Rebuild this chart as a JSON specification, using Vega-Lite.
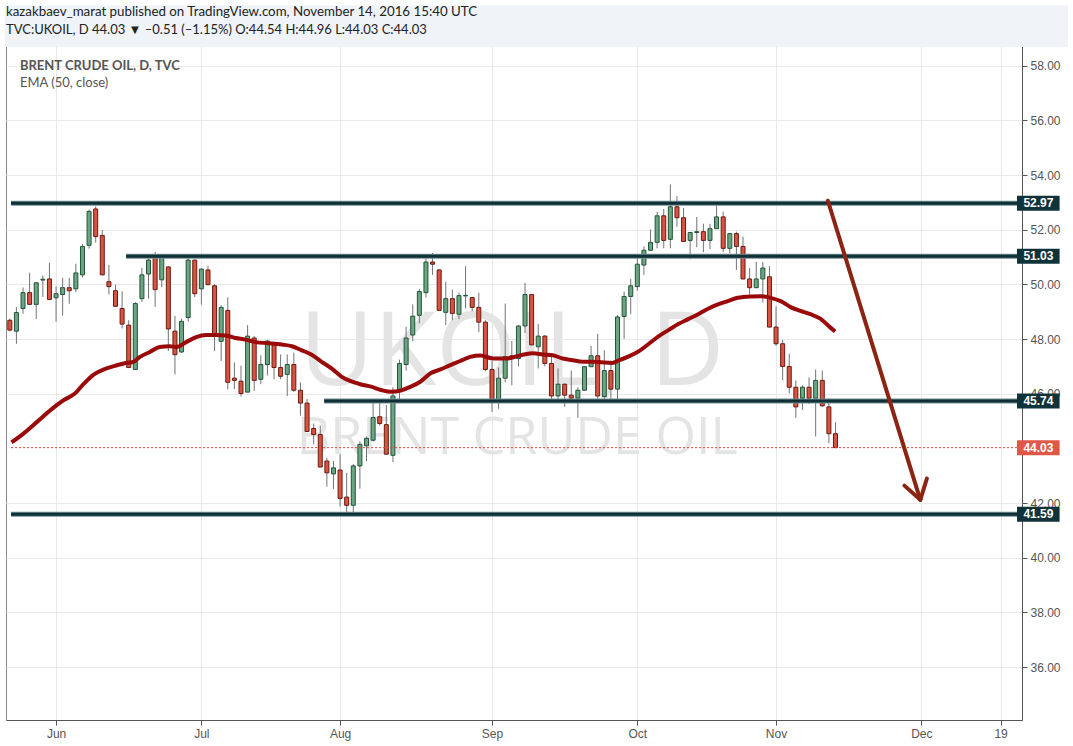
{
  "$schema": "https://vega.github.io/schema/vega-lite/v6.json",
  "width": 1016,
  "height": 678,
  "autosize": {"type": "none"},
  "padding": {"left": 6, "top": 42, "right": 51, "bottom": 26},
  "background": "#ffffff",
  "title": {
    "text": "kazakbaev_marat published on TradingView.com, November 14, 2016 15:40 UTC",
    "subtitle": "TVC:UKOIL, D 44.03 \u25bc \u20130.51 (\u20131.15%) O:44.54 H:44.96 L:44.03 C:44.03",
    "anchor": "start",
    "frame": "group",
    "font": "Lato",
    "fontSize": 13.3,
    "fontWeight": "normal",
    "color": "#222222",
    "subtitleFont": "Lato",
    "subtitleFontSize": 13,
    "subtitleFontWeight": "normal",
    "subtitleColor": "#222222",
    "subtitlePadding": 5,
    "offset": -31
  },
  "config": {
    "view": {"stroke": "#8a8a8a", "fill": "#ffffff"},
    "axis": {
      "grid": true,
      "gridColor": "#e9e9e9",
      "gridWidth": 1,
      "domainColor": "#555555",
      "tickColor": "#555555",
      "tickSize": 5,
      "labelColor": "#555555",
      "labelFont": "'Liberation Sans Narrow', 'Liberation Sans', sans-serif",
      "labelFontSize": 12,
      "title": null
    }
  },
  "datasets": {
    "candles": [
      {"i":-7,"o":48.69,"h":48.75,"l":48.28,"c":48.33},
      {"i":-6,"o":48.29,"h":49.17,"l":47.83,"c":48.97},
      {"i":-5,"o":49.12,"h":49.89,"l":48.93,"c":49.70},
      {"i":-4,"o":49.70,"h":50.43,"l":49.25,"c":49.27},
      {"i":-3,"o":49.27,"h":50.08,"l":48.73,"c":50.06},
      {"i":-2,"o":50.16,"h":50.33,"l":49.54,"c":50.19},
      {"i":-1,"o":50.20,"h":50.79,"l":49.43,"c":49.45},
      {"i":0,"o":49.51,"h":49.93,"l":48.64,"c":49.66},
      {"i":1,"o":49.63,"h":50.24,"l":48.86,"c":49.88},
      {"i":2,"o":49.88,"h":50.24,"l":49.29,"c":49.77},
      {"i":3,"o":49.84,"h":50.76,"l":49.72,"c":50.42},
      {"i":4,"o":50.35,"h":51.48,"l":50.26,"c":51.39},
      {"i":5,"o":51.43,"h":52.74,"l":51.31,"c":52.67},
      {"i":6,"o":52.76,"h":52.85,"l":51.53,"c":51.75},
      {"i":7,"o":51.79,"h":51.99,"l":50.33,"c":50.35},
      {"i":8,"o":50.10,"h":50.72,"l":49.63,"c":49.92},
      {"i":9,"o":49.77,"h":49.99,"l":49.18,"c":49.20},
      {"i":10,"o":49.12,"h":49.75,"l":48.39,"c":48.55},
      {"i":11,"o":48.51,"h":48.69,"l":46.94,"c":46.96},
      {"i":12,"o":46.89,"h":49.35,"l":46.88,"c":49.30},
      {"i":13,"o":49.48,"h":50.61,"l":49.36,"c":50.35},
      {"i":14,"o":50.38,"h":51.05,"l":49.48,"c":50.89},
      {"i":15,"o":50.97,"h":51.19,"l":49.18,"c":49.81},
      {"i":16,"o":50.17,"h":51.09,"l":49.90,"c":51.07},
      {"i":17,"o":50.64,"h":50.66,"l":47.56,"c":48.37},
      {"i":18,"o":48.29,"h":48.85,"l":46.71,"c":47.43},
      {"i":19,"o":47.53,"h":48.74,"l":47.49,"c":48.65},
      {"i":20,"o":48.79,"h":50.99,"l":48.64,"c":50.89},
      {"i":21,"o":50.89,"h":50.91,"l":49.54,"c":49.66},
      {"i":22,"o":49.84,"h":50.58,"l":49.26,"c":50.56},
      {"i":23,"o":50.53,"h":50.69,"l":49.97,"c":49.99},
      {"i":24,"o":49.95,"h":50.01,"l":47.56,"c":48.11},
      {"i":25,"o":47.92,"h":49.24,"l":47.20,"c":49.16},
      {"i":26,"o":49.05,"h":49.53,"l":46.16,"c":46.42},
      {"i":27,"o":46.57,"h":47.15,"l":46.17,"c":46.49},
      {"i":28,"o":46.46,"h":47.03,"l":45.90,"c":46.01},
      {"i":29,"o":46.06,"h":48.51,"l":46.06,"c":48.11},
      {"i":30,"o":48.04,"h":48.11,"l":46.10,"c":46.49},
      {"i":31,"o":46.53,"h":47.41,"l":46.35,"c":47.07},
      {"i":32,"o":47.07,"h":47.97,"l":46.67,"c":47.93},
      {"i":33,"o":47.79,"h":47.86,"l":46.53,"c":46.96},
      {"i":34,"o":46.96,"h":47.44,"l":46.53,"c":46.64},
      {"i":35,"o":46.71,"h":47.44,"l":45.92,"c":47.07},
      {"i":36,"o":47.07,"h":47.50,"l":46.06,"c":46.13},
      {"i":37,"o":46.13,"h":46.42,"l":45.20,"c":45.66},
      {"i":38,"o":45.66,"h":45.81,"l":44.61,"c":44.62},
      {"i":39,"o":44.73,"h":44.91,"l":44.15,"c":44.51},
      {"i":40,"o":44.51,"h":44.84,"l":43.32,"c":43.32},
      {"i":41,"o":43.54,"h":43.65,"l":42.60,"c":43.11},
      {"i":42,"o":43.07,"h":43.54,"l":42.52,"c":43.29},
      {"i":43,"o":43.21,"h":43.79,"l":41.88,"c":42.17},
      {"i":44,"o":42.22,"h":43.11,"l":41.56,"c":41.92},
      {"i":45,"o":41.92,"h":43.43,"l":41.64,"c":43.36},
      {"i":46,"o":43.36,"h":44.26,"l":42.53,"c":44.15},
      {"i":47,"o":44.10,"h":44.44,"l":43.54,"c":44.37},
      {"i":48,"o":44.30,"h":45.66,"l":44.26,"c":45.13},
      {"i":49,"o":45.16,"h":45.66,"l":44.84,"c":44.91},
      {"i":50,"o":44.87,"h":45.59,"l":43.78,"c":43.79},
      {"i":51,"o":43.75,"h":46.24,"l":43.50,"c":45.92},
      {"i":52,"o":46.13,"h":47.25,"l":45.77,"c":47.11},
      {"i":53,"o":47.07,"h":48.45,"l":46.85,"c":48.04},
      {"i":54,"o":48.15,"h":49.27,"l":47.93,"c":48.84},
      {"i":55,"o":48.87,"h":49.84,"l":48.58,"c":49.74},
      {"i":56,"o":49.70,"h":50.96,"l":49.52,"c":50.82},
      {"i":57,"o":50.82,"h":51.15,"l":50.35,"c":50.74},
      {"i":58,"o":50.53,"h":50.55,"l":49.03,"c":49.05},
      {"i":59,"o":48.98,"h":50.10,"l":48.51,"c":49.48},
      {"i":60,"o":49.48,"h":49.81,"l":48.69,"c":48.94},
      {"i":61,"o":48.91,"h":49.70,"l":48.73,"c":49.59},
      {"i":62,"o":49.58,"h":50.67,"l":49.12,"c":49.60},
      {"i":63,"o":49.52,"h":49.54,"l":49.02,"c":49.16},
      {"i":64,"o":49.16,"h":49.70,"l":48.26,"c":48.62},
      {"i":65,"o":48.62,"h":48.69,"l":46.82,"c":46.89},
      {"i":66,"o":46.89,"h":47.20,"l":45.34,"c":45.77},
      {"i":67,"o":45.77,"h":46.96,"l":45.45,"c":46.57},
      {"i":68,"o":46.57,"h":49.30,"l":46.42,"c":47.36},
      {"i":69,"o":47.39,"h":47.93,"l":46.31,"c":47.29},
      {"i":70,"o":47.29,"h":48.50,"l":47.00,"c":48.48},
      {"i":71,"o":48.48,"h":50.06,"l":48.22,"c":49.63},
      {"i":72,"o":49.63,"h":49.65,"l":47.78,"c":47.79},
      {"i":73,"o":47.72,"h":48.55,"l":46.93,"c":48.11},
      {"i":74,"o":48.11,"h":48.15,"l":47.00,"c":47.11},
      {"i":75,"o":47.11,"h":47.47,"l":45.74,"c":45.92},
      {"i":76,"o":45.92,"h":46.93,"l":45.66,"c":46.35},
      {"i":77,"o":46.35,"h":46.37,"l":45.52,"c":45.95},
      {"i":78,"o":45.95,"h":46.85,"l":45.82,"c":45.84},
      {"i":79,"o":45.84,"h":46.24,"l":45.12,"c":46.13},
      {"i":80,"o":46.13,"h":47.00,"l":46.12,"c":46.99},
      {"i":81,"o":46.99,"h":47.75,"l":46.98,"c":47.39},
      {"i":82,"o":47.39,"h":48.19,"l":45.66,"c":45.92},
      {"i":83,"o":45.90,"h":47.59,"l":45.76,"c":46.85},
      {"i":84,"o":46.85,"h":47.21,"l":45.66,"c":46.17},
      {"i":85,"o":46.17,"h":48.88,"l":45.74,"c":48.81},
      {"i":86,"o":48.83,"h":49.74,"l":48.01,"c":49.56},
      {"i":87,"o":49.56,"h":50.20,"l":48.91,"c":49.95},
      {"i":88,"o":49.92,"h":51.07,"l":49.77,"c":50.74},
      {"i":89,"o":50.71,"h":51.39,"l":50.35,"c":51.25},
      {"i":90,"o":51.25,"h":52.01,"l":51.24,"c":51.54},
      {"i":91,"o":51.54,"h":52.65,"l":51.32,"c":52.51},
      {"i":92,"o":52.51,"h":52.76,"l":51.32,"c":51.61},
      {"i":93,"o":51.65,"h":53.66,"l":51.32,"c":52.84},
      {"i":94,"o":52.84,"h":53.23,"l":52.11,"c":52.44},
      {"i":95,"o":52.44,"h":52.80,"l":51.56,"c":51.57},
      {"i":96,"o":51.61,"h":51.92,"l":50.92,"c":51.90},
      {"i":97,"o":51.90,"h":52.47,"l":51.36,"c":51.93},
      {"i":98,"o":51.93,"h":52.22,"l":51.18,"c":51.61},
      {"i":99,"o":51.61,"h":52.22,"l":51.29,"c":52.04},
      {"i":100,"o":52.04,"h":53.05,"l":52.03,"c":52.47},
      {"i":101,"o":52.47,"h":52.66,"l":51.18,"c":51.32},
      {"i":102,"o":51.32,"h":51.88,"l":51.14,"c":51.86},
      {"i":103,"o":51.86,"h":51.93,"l":50.53,"c":51.39},
      {"i":104,"o":51.39,"h":51.75,"l":50.19,"c":50.20},
      {"i":105,"o":50.20,"h":50.60,"l":49.63,"c":49.88},
      {"i":106,"o":49.88,"h":50.82,"l":49.87,"c":50.20},
      {"i":107,"o":50.20,"h":50.82,"l":49.34,"c":50.60},
      {"i":108,"o":50.28,"h":50.67,"l":48.43,"c":48.44},
      {"i":109,"o":48.44,"h":49.20,"l":47.75,"c":47.83},
      {"i":110,"o":47.83,"h":47.97,"l":46.49,"c":47.00},
      {"i":111,"o":47.00,"h":47.47,"l":46.02,"c":46.24},
      {"i":112,"o":46.24,"h":46.49,"l":45.12,"c":45.52},
      {"i":113,"o":45.84,"h":46.31,"l":45.41,"c":46.24},
      {"i":114,"o":46.24,"h":46.60,"l":45.63,"c":45.84},
      {"i":115,"o":45.84,"h":46.89,"l":44.44,"c":46.49},
      {"i":116,"o":46.49,"h":46.85,"l":45.52,"c":45.56},
      {"i":117,"o":45.52,"h":45.84,"l":44.19,"c":44.54},
      {"i":118,"o":44.54,"h":44.96,"l":44.03,"c":44.03}
    ],
    "ema": [
      {"i":-6.74,"v":44.22},{"i":-4.75,"v":44.58},{"i":-2.75,"v":45.00},{"i":-0.75,"v":45.42},
      {"i":1.25,"v":45.78},{"i":2.75,"v":45.99},{"i":4.25,"v":46.38},{"i":5.75,"v":46.71},
      {"i":7.25,"v":46.89},{"i":8.75,"v":47.01},{"i":10.25,"v":47.11},{"i":11.7,"v":47.17},
      {"i":12.7,"v":47.35},{"i":14.2,"v":47.53},{"i":15.7,"v":47.71},{"i":17.2,"v":47.74},
      {"i":18.2,"v":47.71},{"i":19.7,"v":47.89},{"i":21.2,"v":48.07},{"i":22.7,"v":48.15},
      {"i":24.2,"v":48.15},{"i":25.7,"v":48.13},{"i":27.2,"v":48.04},{"i":28.7,"v":47.98},
      {"i":30.2,"v":47.89},{"i":32.2,"v":47.85},{"i":34.2,"v":47.80},{"i":35.7,"v":47.74},
      {"i":37.2,"v":47.59},{"i":38.7,"v":47.43},{"i":40.2,"v":47.17},{"i":41.7,"v":46.93},
      {"i":43.2,"v":46.63},{"i":44.7,"v":46.45},{"i":46.2,"v":46.34},{"i":47.7,"v":46.26},
      {"i":49.2,"v":46.14},{"i":50.7,"v":46.07},{"i":52.2,"v":46.12},{"i":53.7,"v":46.26},
      {"i":55.2,"v":46.45},{"i":56.7,"v":46.75},{"i":58.2,"v":46.89},{"i":59.7,"v":47.05},
      {"i":61.2,"v":47.20},{"i":62.7,"v":47.35},{"i":64.2,"v":47.40},{"i":66.2,"v":47.29},
      {"i":68.2,"v":47.29},{"i":70.7,"v":47.43},{"i":72.2,"v":47.48},{"i":73.7,"v":47.44},
      {"i":75.2,"v":47.41},{"i":76.7,"v":47.29},{"i":78.2,"v":47.23},{"i":79.7,"v":47.17},
      {"i":81.2,"v":47.17},{"i":82.2,"v":47.16},{"i":84.2,"v":47.13},{"i":85.2,"v":47.22},
      {"i":86.7,"v":47.37},{"i":88.2,"v":47.55},{"i":89.7,"v":47.82},{"i":91.2,"v":48.10},
      {"i":92.7,"v":48.33},{"i":94.2,"v":48.55},{"i":95.7,"v":48.73},{"i":97.2,"v":48.91},
      {"i":98.7,"v":49.11},{"i":100.2,"v":49.27},{"i":101.7,"v":49.39},{"i":103.2,"v":49.51},
      {"i":105.2,"v":49.56},{"i":106.7,"v":49.57},{"i":108.2,"v":49.51},{"i":109.7,"v":49.39},
      {"i":111.2,"v":49.17},{"i":112.7,"v":49.03},{"i":114.2,"v":48.91},{"i":115.7,"v":48.75},
      {"i":117.2,"v":48.43},{"i":117.95,"v":48.28}
    ],
    "levels": [
      {"start": -6.82, "price": 52.97},
      {"start": 10.61, "price": 51.03},
      {"start": 40.59, "price": 45.74},
      {"start": -6.82, "price": 41.59}
    ],
    "tags": [
      {"price": 52.97, "label": "52.97", "kind": "level"},
      {"price": 51.03, "label": "51.03", "kind": "level"},
      {"price": 45.74, "label": "45.74", "kind": "level"},
      {"price": 44.03, "label": "44.03", "kind": "last"},
      {"price": 41.59, "label": "41.59", "kind": "level"}
    ],
    "arrow": [
      {"xa": 116.85, "ya": 53.06, "xb": 130.84, "yb": 42.12},
      {"xa": 128.44, "ya": 42.64, "xb": 130.84, "yb": 42.12},
      {"xa": 131.84, "ya": 42.90, "xb": 130.84, "yb": 42.12}
    ]
  },
  "layer": [
    {
      "data": {"values": [{"band": "header"}]},
      "mark": {"type": "rect", "fill": "#f0f3f7", "clip": false},
      "encoding": {
        "x": {"datum": -7.8, "type": "quantitative"},
        "x2": {"datum": 153.2},
        "y": {"datum": 58.685, "type": "quantitative"},
        "y2": {"datum": 60.2}
      }
    },
    {
      "data": {"values": [{"t": "UKOIL, D"}]},
      "mark": {"type": "text", "font": "Open Sans", "fontSize": 102, "color": "#e4e4e4", "align": "center", "baseline": "alphabetic"},
      "encoding": {
        "text": {"field": "t"},
        "x": {"datum": 69.0, "type": "quantitative"},
        "y": {"datum": 46.32, "type": "quantitative"}
      }
    },
    {
      "data": {"values": [{"t": "BRENT CRUDE OIL"}]},
      "mark": {"type": "text", "font": "Open Sans", "fontSize": 52, "color": "#e4e4e4", "align": "center", "baseline": "alphabetic"},
      "encoding": {
        "text": {"field": "t"},
        "x": {"datum": 69.8, "type": "quantitative"},
        "y": {"datum": 43.80, "type": "quantitative"}
      }
    },
    {
      "data": {"name": "candles"},
      "mark": {"type": "rule", "color": "#737375", "strokeWidth": 1, "clip": true},
      "encoding": {
        "x": {
          "field": "i", "type": "quantitative",
          "scale": {"domain": [-6.82, 145.48], "nice": false, "zero": false},
          "axis": {
            "orient": "bottom",
            "values": [0, 22, 43, 66, 88, 109, 131, 143],
            "labelExpr": "datum.value == 0 ? 'Jun' : datum.value == 22 ? 'Jul' : datum.value == 43 ? 'Aug' : datum.value == 66 ? 'Sep' : datum.value == 88 ? 'Oct' : datum.value == 109 ? 'Nov' : datum.value == 131 ? 'Dec' : '19'",
            "labelPadding": 3
          }
        },
        "y": {
          "field": "l", "type": "quantitative",
          "scale": {"domain": [34.25, 58.685], "nice": false, "zero": false},
          "axis": {
            "orient": "right",
            "values": [36, 38, 40, 42, 46, 48, 50, 52, 54, 56, 58],
            "format": ".2f",
            "labelPadding": 3
          }
        },
        "y2": {"field": "h"}
      }
    },
    {
      "data": {"name": "candles"},
      "mark": {"type": "bar", "size": 4, "strokeWidth": 1, "clip": true},
      "encoding": {
        "x": {"field": "i", "type": "quantitative"},
        "y": {"field": "o", "type": "quantitative"},
        "y2": {"field": "c"},
        "fill": {"condition": {"test": "datum.c >= datum.o", "value": "#6ba583"}, "value": "#d75442"},
        "stroke": {"condition": {"test": "datum.c >= datum.o", "value": "#225437"}, "value": "#6b1a10"}
      }
    },
    {
      "data": {"name": "ema"},
      "mark": {"type": "line", "interpolate": "monotone", "color": "#9b0a0a", "strokeWidth": 4, "clip": true},
      "encoding": {
        "x": {"field": "i", "type": "quantitative"},
        "y": {"field": "v", "type": "quantitative"}
      }
    },
    {
      "data": {"values": [{"last": 44.03}]},
      "mark": {"type": "rule", "color": "#e2473a", "strokeWidth": 1, "strokeDash": [2, 2], "clip": true},
      "encoding": {
        "x": {"datum": -6.82, "type": "quantitative"},
        "x2": {"datum": 145.48},
        "y": {"field": "last", "type": "quantitative"}
      }
    },
    {
      "data": {"name": "levels"},
      "mark": {"type": "rule", "color": "#6f8d93", "strokeWidth": 5, "clip": true},
      "encoding": {
        "x": {"field": "start", "type": "quantitative"},
        "x2": {"datum": 145.48},
        "y": {"field": "price", "type": "quantitative"}
      }
    },
    {
      "data": {"name": "levels"},
      "mark": {"type": "rule", "color": "#0e3036", "strokeWidth": 3, "clip": true},
      "encoding": {
        "x": {"field": "start", "type": "quantitative"},
        "x2": {"datum": 145.48},
        "y": {"field": "price", "type": "quantitative"}
      }
    },
    {
      "data": {"name": "arrow"},
      "mark": {"type": "rule", "color": "#8b2413", "strokeWidth": 4, "strokeCap": "round", "clip": true},
      "encoding": {
        "x": {"field": "xa", "type": "quantitative"},
        "y": {"field": "ya", "type": "quantitative"},
        "x2": {"field": "xb"},
        "y2": {"field": "yb"}
      }
    },
    {
      "data": {"name": "tags"},
      "mark": {"type": "bar", "orient": "horizontal", "size": 15, "clip": false},
      "encoding": {
        "x": {"datum": 145.48, "type": "quantitative"},
        "x2": {"datum": 151.93},
        "y": {"field": "price", "type": "quantitative"},
        "fill": {"condition": {"test": "datum.kind == 'last'", "value": "#dd5945"}, "value": "#0f3339"}
      }
    },
    {
      "data": {"name": "tags"},
      "mark": {"type": "text", "color": "#ffffff", "font": "Liberation Sans", "fontSize": 12, "fontWeight": "bold", "align": "center", "baseline": "middle", "clip": false},
      "encoding": {
        "text": {"field": "label"},
        "x": {"datum": 148.72, "type": "quantitative"},
        "y": {"field": "price", "type": "quantitative"}
      }
    },
    {
      "data": {"values": [{"t": "BRENT CRUDE OIL, D, TVC"}]},
      "mark": {"type": "text", "font": "Lato", "fontSize": 13, "fontWeight": "bold", "color": "#555555", "align": "left", "baseline": "alphabetic"},
      "encoding": {
        "text": {"field": "t"},
        "x": {"datum": -5.47, "type": "quantitative"},
        "y": {"datum": 57.86, "type": "quantitative"}
      }
    },
    {
      "data": {"values": [{"t": "EMA (50, close)"}]},
      "mark": {"type": "text", "font": "Lato", "fontSize": 13, "color": "#555555", "align": "left", "baseline": "alphabetic"},
      "encoding": {
        "text": {"field": "t"},
        "x": {"datum": -5.47, "type": "quantitative"},
        "y": {"datum": 57.24, "type": "quantitative"}
      }
    }
  ]
}
